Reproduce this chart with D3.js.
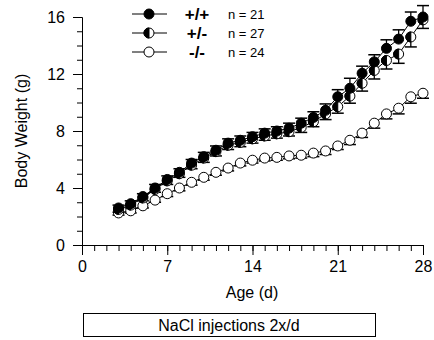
<!DOCTYPE html>
<html>
<head>
<meta charset="utf-8">
<script src="https://cdn.jsdelivr.net/npm/d3@7/dist/d3.min.js"></script>
<style>
  body { margin: 0; background: #fff; }
  text { font-family: "Liberation Sans", Arial, sans-serif; fill: #000; }
</style>
</head>
<body>
<div id="chart"></div>
<script>
// data
const days = [3, 4, 5, 6, 7, 8, 9, 10, 11, 12, 13, 14, 15, 16, 17, 18, 19, 20, 21, 22, 23, 24, 25, 26, 27, 28];
const wtValues = [2.6, 2.9, 3.4, 4.0, 4.6, 5.1, 5.75, 6.2, 6.65, 7.15, 7.35, 7.6, 7.85, 8.0, 8.2, 8.55, 8.95, 9.45, 10.4, 11.0, 12.05, 12.85, 13.8, 14.45, 15.7, 16.0];
const wtErr = [0.2, 0.2, 0.2, 0.25, 0.25, 0.25, 0.25, 0.3, 0.3, 0.3, 0.3, 0.3, 0.3, 0.3, 0.35, 0.35, 0.4, 0.45, 0.5, 0.7, 0.5, 0.5, 0.6, 0.65, 0.65, 0.8];
const hetValues = [2.5, 2.8, 3.3, 3.9, 4.5, 5.0, 5.6, 6.1, 6.55, 7.0, 7.2, 7.45, 7.65, 7.8, 7.95, 8.25, 8.65, 9.2, 9.7, 10.45, 11.35, 12.25, 12.95, 13.4, 14.6, 15.8];
const hetErr = [0.2, 0.2, 0.2, 0.2, 0.25, 0.25, 0.25, 0.3, 0.3, 0.3, 0.3, 0.3, 0.3, 0.3, 0.3, 0.35, 0.35, 0.4, 0.45, 0.5, 0.55, 0.6, 0.6, 0.65, 0.7, 0.6];
const koValues = [2.25, 2.4, 2.75, 3.15, 3.6, 4.0, 4.4, 4.75, 5.1, 5.4, 5.75, 5.95, 6.1, 6.15, 6.25, 6.3, 6.45, 6.6, 6.95, 7.35, 7.85, 8.55, 9.2, 9.6, 10.4, 10.65];
const koErr = [0.15, 0.15, 0.15, 0.15, 0.2, 0.2, 0.2, 0.2, 0.2, 0.2, 0.2, 0.2, 0.2, 0.2, 0.2, 0.2, 0.25, 0.25, 0.25, 0.3, 0.3, 0.35, 0.35, 0.4, 0.45, 0.35];
const genotypes = ["+/+", "+/-", "-/-"];
const counts = ["n = 21", "n = 27", "n = 24"];
const xMajor = [0, 7, 14, 21, 28];
const yMajor = [0, 4, 8, 12, 16];

const width = 434, height = 340;
const r = 5;

const svg = d3.select("#chart").append("svg")
    .attr("width", width)
    .attr("height", height);

const x = d3.scaleLinear().domain([0, 28]).range([82, 423]);
const y = d3.scaleLinear().domain([0, 16]).range([245, 17]);

// axes (minor ticks first, then labelled majors)
svg.append("g")
    .attr("transform", `translate(0,${y(0)})`)
    .call(d3.axisBottom(x).tickValues(d3.range(0, 29)).tickSize(6).tickSizeOuter(0).tickFormat(""));
svg.append("g")
    .attr("transform", `translate(0,${y(0)})`)
    .call(d3.axisBottom(x).tickValues(xMajor).tickSize(10).tickSizeOuter(0).tickPadding(6))
    .call(g => g.selectAll(".tick text").attr("font-size", "16px"));

svg.append("g")
    .attr("transform", `translate(${x(0)},0)`)
    .call(d3.axisLeft(y).tickValues(d3.range(0, 17)).tickSize(5).tickSizeOuter(0).tickFormat(""));
svg.append("g")
    .attr("transform", `translate(${x(0)},0)`)
    .call(d3.axisLeft(y).tickValues(yMajor).tickSize(9).tickSizeOuter(0).tickPadding(8))
    .call(g => g.selectAll(".tick text").attr("font-size", "16px"));

svg.selectAll(".domain, .tick line").attr("stroke", "#000").attr("stroke-width", 1);
svg.selectAll(".tick text").attr("fill", "#000").style("font-family", "'Liberation Sans', Arial, sans-serif");

// axis titles
svg.append("text")
    .attr("transform", `translate(23,${(y(0) + y(16)) / 2}) rotate(-90)`)
    .attr("text-anchor", "middle")
    .attr("dominant-baseline", "middle")
    .attr("font-size", "16px")
    .text("Body Weight (g)");

svg.append("text")
    .attr("x", 252)
    .attr("y", 298)
    .attr("text-anchor", "middle")
    .attr("font-size", "16px")
    .text("Age (d)");

// treatment box
svg.append("rect")
    .attr("x", 83.5).attr("y", 313.5)
    .attr("width", 292).attr("height", 23)
    .attr("fill", "#fff").attr("stroke", "#000");
svg.append("text")
    .attr("x", 229)
    .attr("y", 331)
    .attr("text-anchor", "middle")
    .attr("font-size", "16px")
    .text("NaCl injections 2x/d");

// markers
function drawMarker(g, cx, cy, kind) {
    if (kind === 0) {
        g.append("circle").attr("cx", cx).attr("cy", cy).attr("r", r)
            .attr("fill", "#000").attr("stroke", "#000");
    } else if (kind === 1) {
        g.append("circle").attr("cx", cx).attr("cy", cy).attr("r", r)
            .attr("fill", "#fff").attr("stroke", "#000");
        g.append("path")
            .attr("d", `M${cx},${cy - r} A${r},${r} 0 0 0 ${cx},${cy + r} Z`)
            .attr("fill", "#000").attr("stroke", "#000");
    } else {
        g.append("circle").attr("cx", cx).attr("cy", cy).attr("r", r)
            .attr("fill", "#fff").attr("stroke", "#000");
    }
}

const line = d3.line()
    .x((d, i) => x(days[i]))
    .y(d => y(d));

function drawSeries(values, errs, kind, dir) {
    const g = svg.append("g");
    g.append("path")
        .datum(values)
        .attr("fill", "none")
        .attr("stroke", "#000")
        .attr("stroke-width", 1)
        .attr("d", line);
    values.forEach((v, i) => {
        const cx = x(days[i]);
        const ye = y(v + dir * errs[i]);
        g.append("line").attr("x1", cx).attr("x2", cx)
            .attr("y1", y(v)).attr("y2", ye)
            .attr("stroke", "#000").attr("stroke-width", 1.3);
        g.append("line").attr("x1", cx - 6).attr("x2", cx + 6)
            .attr("y1", ye).attr("y2", ye)
            .attr("stroke", "#000").attr("stroke-width", 1.5);
    });
    values.forEach((v, i) => drawMarker(g, x(days[i]), y(v), kind));
}

drawSeries(koValues, koErr, 2, -1);
drawSeries(hetValues, hetErr, 1, -1);
drawSeries(wtValues, wtErr, 0, 1);

// legend
const legendY = [14, 33, 52];
genotypes.forEach((lab, i) => {
    const g = svg.append("g");
    g.append("line")
        .attr("x1", 132).attr("x2", 167)
        .attr("y1", legendY[i]).attr("y2", legendY[i])
        .attr("stroke", "#000");
    drawMarker(g, 149, legendY[i], i);
    g.append("text")
        .attr("x", 197).attr("y", legendY[i])
        .attr("dy", "0.36em")
        .attr("text-anchor", "middle")
        .attr("font-size", "17px")
        .attr("font-weight", "bold")
        .text(lab);
    g.append("text")
        .attr("x", 228).attr("y", legendY[i])
        .attr("dy", "0.36em")
        .attr("font-size", "13px")
        .text(counts[i]);
});
</script>
</body>
</html>
